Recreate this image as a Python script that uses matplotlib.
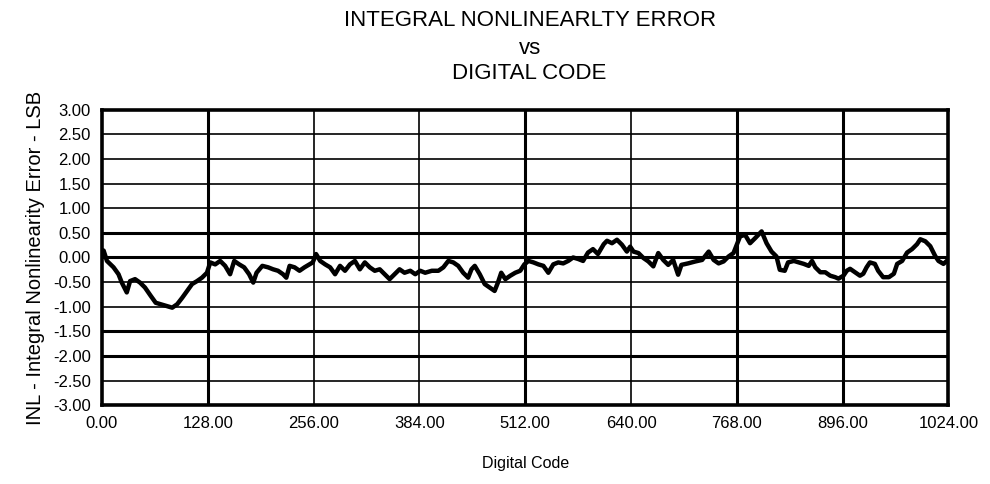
import matplotlib
matplotlib.use("Agg")
import matplotlib.pyplot as plt

plt.rcParams['font.family'] = ['Liberation Sans', 'DejaVu Sans']

# INL curve (digital code, LSB)
codes = [0, 2, 6, 14, 20, 24, 30, 34, 40, 46, 52, 59, 65, 71, 79, 85, 91, 97, 103, 109,
         115, 121, 127, 131, 137, 143, 149, 155, 160, 166, 172, 178, 183, 187, 194,
         201, 207, 213, 219, 223, 227, 233, 239, 245, 251, 255, 259, 264, 270, 276,
         282, 288, 294, 300, 306, 312, 318, 324, 330, 336, 342, 348, 354, 360, 366,
         373, 379, 385, 391, 399,
         407, 413, 419, 425, 431, 437, 443, 447, 451, 457, 463, 469, 475, 479, 483,
         488, 494, 500, 506, 511, 516, 522, 528, 534, 540, 546, 552, 558, 564, 570,
         576, 582, 588, 594, 600, 607, 611,
         617, 623, 629, 635, 639, 643, 649, 655, 661, 667, 673, 679, 685, 691, 697,
         701, 709, 718, 726, 734, 740, 746, 752, 758, 764, 768, 772, 778, 784, 790,
         798, 804, 810, 816, 820, 826,
         830, 837, 843, 849, 855, 859, 863, 869, 875, 881, 887, 891, 897, 901, 905,
         911, 917, 921, 925, 929, 935, 939, 945, 952, 958, 962, 968, 974, 980, 986,
         990, 996, 1002, 1008, 1012, 1018, 1022]
inl = [0.15, 0.14, -0.07, -0.20, -0.34, -0.51, -0.71, -0.48, -0.44, -0.51, -0.61, -0.78, -0.92, -0.95, -0.99, -1.02, -0.95, -0.82, -0.68, -0.54,
       -0.48, -0.41, -0.31, -0.10, -0.14, -0.07, -0.17, -0.34, -0.07, -0.14, -0.20, -0.34, -0.51, -0.31, -0.17,
       -0.20, -0.24, -0.27, -0.34, -0.41, -0.17, -0.20, -0.27, -0.20, -0.14, -0.10, 0.07, -0.07, -0.14, -0.20,
       -0.34, -0.17, -0.27, -0.14, -0.07, -0.24, -0.10, -0.20, -0.27, -0.24, -0.34, -0.44, -0.34, -0.24, -0.31,
       -0.27, -0.34, -0.27, -0.31, -0.27,
       -0.27, -0.20, -0.07, -0.10, -0.17, -0.31, -0.41, -0.24, -0.17, -0.34, -0.54, -0.61, -0.68, -0.51, -0.31,
       -0.44, -0.37, -0.31, -0.27, -0.14, -0.07, -0.10, -0.14, -0.17, -0.31, -0.14, -0.10, -0.12, -0.07, 0.00,
       -0.03, -0.07, 0.10, 0.17, 0.07, 0.27, 0.34,
       0.29, 0.36, 0.26, 0.12, 0.22, 0.12, 0.09, -0.01, -0.08, -0.18, 0.09, -0.05, -0.15, -0.05, -0.35,
       -0.15, -0.12, -0.08, -0.05, 0.12, -0.05, -0.12, -0.08, 0.02, 0.09, 0.26, 0.43, 0.46, 0.29, 0.39,
       0.53, 0.29, 0.12, 0.02, -0.25, -0.27,
       -0.10, -0.07, -0.10, -0.13, -0.17, -0.07, -0.20, -0.30, -0.30, -0.37, -0.40, -0.43, -0.37, -0.27, -0.23,
       -0.30, -0.37, -0.33, -0.20, -0.10, -0.13, -0.27, -0.40, -0.40, -0.33, -0.13, -0.07, 0.10, 0.17, 0.27,
       0.37, 0.33, 0.23, 0.03, -0.07, -0.13, -0.07]

xticks = [0, 128, 256, 384, 512, 640, 768, 896, 1024]
yticks = [-3.0, -2.5, -2.0, -1.5, -1.0, -0.5, 0.0, 0.5, 1.0, 1.5, 2.0, 2.5, 3.0]
# grid lines that look heavier in the reference
thick_x = [128, 512, 768, 896]
thick_y = [0.5, 0.0, -1.5, -2.0]

fig = plt.figure(figsize=(9.9, 4.84), dpi=100)
ax = fig.add_axes([0.103, 0.163, 0.855, 0.61])

for x in xticks[1:-1]:
    ax.axvline(x, color='black', lw=2.2 if x in thick_x else 1.2, zorder=1)
for y in yticks[1:-1]:
    ax.axhline(y, color='black', lw=2.2 if y in thick_y else 1.2, zorder=1)

ax.plot(codes, inl, color='black', lw=3.2, zorder=3)

ax.set_xlim(0, 1024)
ax.set_ylim(-3, 3)
ax.set_xticks(xticks)
ax.set_xticklabels(['%.2f' % v for v in xticks])
ax.set_yticks(yticks)
ax.set_yticklabels(['%.2f' % v for v in yticks])
ax.tick_params(length=0, labelsize=12, pad=8)
for s in ax.spines.values():
    s.set_linewidth(2.6)

ax.set_xlabel('Digital Code', fontsize=11.5, labelpad=18)
ax.set_ylabel('INL - Integral Nonlinearity Error - LSB', fontsize=14.5, labelpad=6)

fig.text(0.535, 0.958, 'INTEGRAL NONLINEARLTY ERROR', ha='center', va='center', fontsize=16)
fig.text(0.535, 0.90, 'vs', ha='center', va='center', fontsize=16)
fig.text(0.535, 0.848, 'DIGITAL CODE', ha='center', va='center', fontsize=16)

fig.savefig('out.png', dpi=100)
